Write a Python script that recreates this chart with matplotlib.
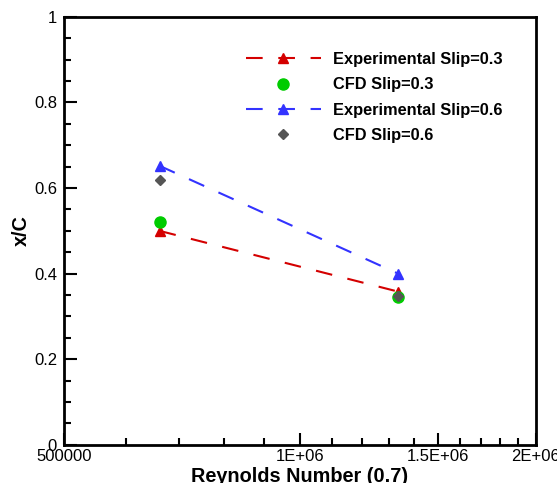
import numpy as np
import matplotlib
matplotlib.use("Agg")
import matplotlib.pyplot as plt
from matplotlib.ticker import FixedLocator, FixedFormatter, MultipleLocator

plt.rcParams['font.family'] = ['Liberation Sans', 'DejaVu Sans']

# data
reynolds = [6.62e5, 1.335e6]
exp_slip03 = [0.50, 0.358]
cfd_slip03 = [0.52, 0.345]
exp_slip06 = [0.652, 0.40]
cfd_slip06 = [0.62, 0.348]

x_major = [5e5, 1e6, 1.5e6, 2e6]
x_major_labels = ["500000", "1E+06", "1.5E+06", "2E+06"]
x_minor = [6e5, 7e5, 8e5, 9e5, 1.1e6, 1.2e6, 1.3e6, 1.4e6, 1.6e6, 1.7e6, 1.8e6, 1.9e6]
y_major = [0, 0.2, 0.4, 0.6, 0.8, 1.0]
y_major_labels = ["0", "0.2", "0.4", "0.6", "0.8", "1"]

fig = plt.figure(figsize=(5.57, 4.83), dpi=100)
ax = fig.add_axes([0.115, 0.079, 0.847, 0.886])

red = "#d40000"
blue = "#3333ff"
green = "#00cc00"
gray = "#555555"

ax.plot(reynolds, exp_slip03, color=red, lw=1.5, dashes=(8, 7.5), marker="^",
        ms=7, mec=red, mfc=red, label="Experimental Slip=0.3")
ax.plot(reynolds, cfd_slip03, ls="none", marker="o", ms=8, color=green,
        label="CFD Slip=0.3")
ax.plot(reynolds, exp_slip06, color=blue, lw=1.5, dashes=(8, 7.5), marker="^",
        ms=7, mec=blue, mfc=blue, label="Experimental Slip=0.6")
ax.plot(reynolds, cfd_slip06, ls="none", marker="D", ms=5, color=gray,
        label="CFD Slip=0.6")

ax.set_xscale("log")
ax.set_xlim(5e5, 2e6)
ax.set_ylim(0, 1)
ax.xaxis.set_major_locator(FixedLocator(x_major))
ax.xaxis.set_major_formatter(FixedFormatter(x_major_labels))
ax.xaxis.set_minor_locator(FixedLocator(x_minor))
ax.xaxis.set_minor_formatter(FixedFormatter([""] * len(x_minor)))
ax.set_yticks(y_major)
ax.set_yticklabels(y_major_labels)
ax.yaxis.set_minor_locator(MultipleLocator(0.05))

ax.tick_params(which="both", direction="in", top=False, right=False,
               labelsize=12, width=1.5)
ax.tick_params(which="major", length=9)
ax.tick_params(axis="y", which="major", pad=5)
ax.tick_params(axis="x", which="major", pad=3)
ax.tick_params(which="minor", length=5)
for s in ax.spines.values():
    s.set_linewidth(2)

ax.set_xlabel("Reynolds Number (0.7)", fontsize=14.3, fontweight="bold", labelpad=2)
ax.set_ylabel("x/C", fontsize=14.3, fontweight="bold", labelpad=2)

leg = ax.legend(loc="upper right", bbox_to_anchor=(0.96, 0.952), frameon=False,
                numpoints=1, handlelength=4.6, handletextpad=0.7,
                labelspacing=0.62, prop={"weight": "bold", "size": 11.8})

fig.savefig("out.png", dpi=100)
